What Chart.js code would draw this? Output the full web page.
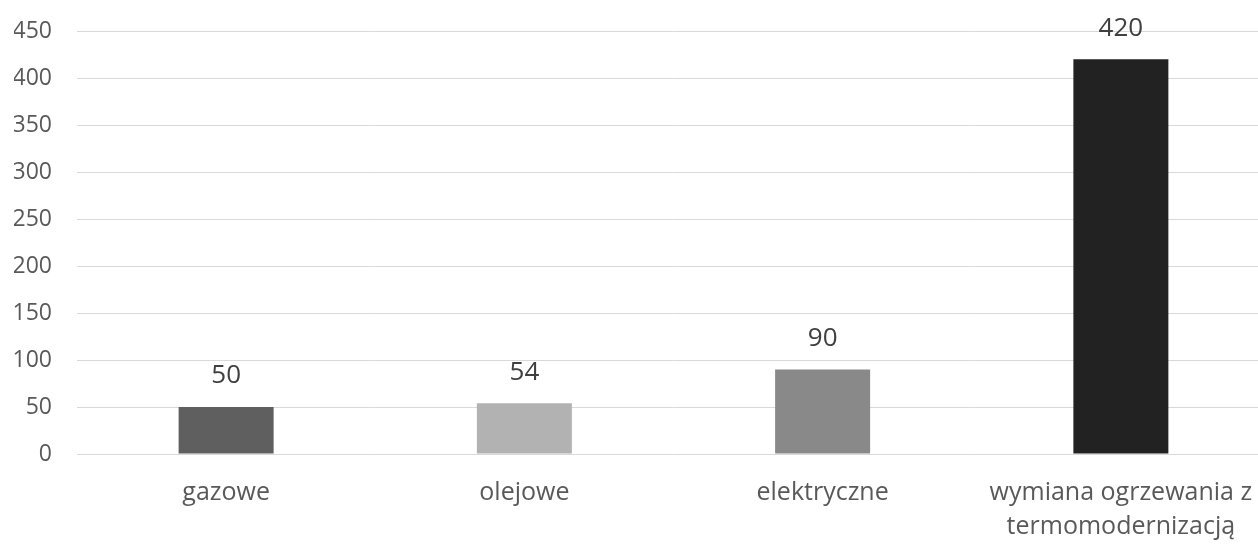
<!DOCTYPE html>
<html>
<head>
<meta charset="utf-8">
<script src="https://cdn.jsdelivr.net/npm/chart.js@4/dist/chart.umd.min.js"></script>
<style>
  html, body { margin: 0; padding: 0; background: #fff; overflow: hidden; }
  #wrap { width: 1270px; height: 545px; }
</style>
</head>
<body>
<div id="wrap"><canvas id="wykres"></canvas></div>
<script>
// dane wykresu
const kategorie = ['gazowe', 'olejowe', 'elektryczne', ['wymiana ogrzewania z', 'termomodernizacją']];
const wartosci = [50, 54, 90, 420];
const kolory = ['#5f5f5f', '#b2b2b2', '#898989', '#222222'];
const osY = { min: 0, max: 450, krok: 50 };

const FONT = "'Open Sans', 'Liberation Sans', sans-serif";

// etykiety wartości nad słupkami
const etykietyPlugin = {
    id: 'etykiety',
    afterDatasetsDraw(chart) {
        const ctx = chart.ctx;
        const meta = chart.getDatasetMeta(0);
        ctx.save();
        ctx.font = '26px ' + FONT;
        ctx.fillStyle = '#404040';
        ctx.textAlign = 'center';
        ctx.textBaseline = 'middle';
        meta.data.forEach((bar, i) => {
            ctx.fillText(String(wartosci[i]), bar.x, bar.y - 31);
        });
        ctx.restore();
    }
};

new Chart(document.getElementById('wykres'), {
    type: 'bar',
    data: {
        labels: kategorie,
        datasets: [{
            data: wartosci,
            backgroundColor: kolory,
            barPercentage: 0.637,
            categoryPercentage: 0.5
        }]
    },
    options: {
        responsive: true,
        maintainAspectRatio: false,
        animation: false,
        layout: { padding: { top: 31, left: 14, right: 0, bottom: 0 } },
        plugins: { legend: { display: false }, tooltip: { enabled: false } },
        scales: {
            x: {
                grid: { display: false, drawTicks: false },
                border: { display: false },
                ticks: { color: '#595959', font: { family: FONT, size: 25, lineHeight: 1.36 }, padding: 22, maxRotation: 0 },
                afterFit(s) { s.height = 91; s.paddingLeft = 0; s.paddingRight = 0; }
            },
            y: {
                min: osY.min,
                max: osY.max,
                grid: { color: '#d9d9d9', drawTicks: false },
                border: { display: false },
                ticks: { stepSize: osY.krok, color: '#595959', font: { family: FONT, size: 23 }, padding: 25 },
                afterFit(s) { s.width = 63; s.paddingTop = 0; s.paddingBottom = 0; }
            }
        }
    },
    plugins: [etykietyPlugin]
});
</script>
</body>
</html>
